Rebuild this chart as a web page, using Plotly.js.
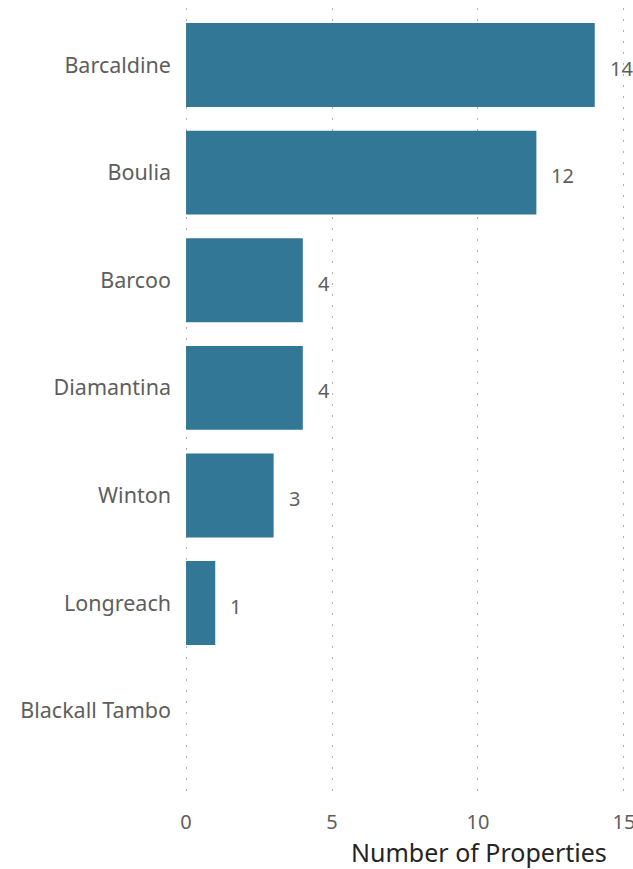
<!DOCTYPE html>
<html><head><meta charset="utf-8">
<script src="https://cdn.plot.ly/plotly-3.0.1.min.js"></script>
<style>html,body{margin:0;padding:0;background:#fff}#chart{width:633px;height:869px}</style>
</head><body><div id="chart"></div>
<script>
const categories = ["Barcaldine","Boulia","Barcoo","Diamantina","Winton","Longreach","Blackall Tambo"];
const values = [14,12,4,4,3,1,0];
const xTicks = [0,5,10,15];
const xTitle = "Number of Properties";

const FONT = "Segoe UI, Noto Sans, Open Sans, sans-serif";
const labelAnnotations = categories.map((c,i)=> values[i] > 0 ? ({
  x: values[i], y: c, xref:'x', yref:'y', text: String(values[i]),
  showarrow:false, xanchor:'left', xshift:13, yshift:-3,
  font:{family:FONT,size:20,color:'#605E5C'}
}) : null).filter(a=>a);

const trace = {
  type:'bar', orientation:'h', x: values, y: categories,
  marker:{color:'#337796'}, width:0.78, hoverinfo:'skip'
};
const layout = {
  width:633, height:869,
  margin:{l:184,r:7,t:8,b:69},
  paper_bgcolor:'#fff', plot_bgcolor:'#fff',
  showlegend:false,
  xaxis:{range:[-0.07,15.07], tickvals:xTicks, showgrid:true, gridcolor:'#B3B0AD', griddash:'2px,9px', gridwidth:1,
    zeroline:false, showline:false, ticks:'', ticklabelstandoff:8, ticklabeloverflow:'allow',
    tickfont:{family:FONT,size:20,color:'#605E5C'}},
  yaxis:{type:'category', categoryorder:'array', categoryarray:categories, range:[6.83,-0.53],
    showgrid:false, zeroline:false, showline:false, ticks:'', ticklabelstandoff:12,
    tickfont:{family:FONT,size:21.5,color:'#605E5C'}},
  annotations: labelAnnotations.concat([{
    x:0.961, y:0, xref:'paper', yref:'paper', xanchor:'right', yanchor:'top', yshift:-33,
    text:xTitle, showarrow:false, font:{family:FONT,size:25,color:'#252423'}
  }])
};
Plotly.newPlot('chart',[trace],layout,{displayModeBar:false,staticPlot:true});
</script></body></html>
